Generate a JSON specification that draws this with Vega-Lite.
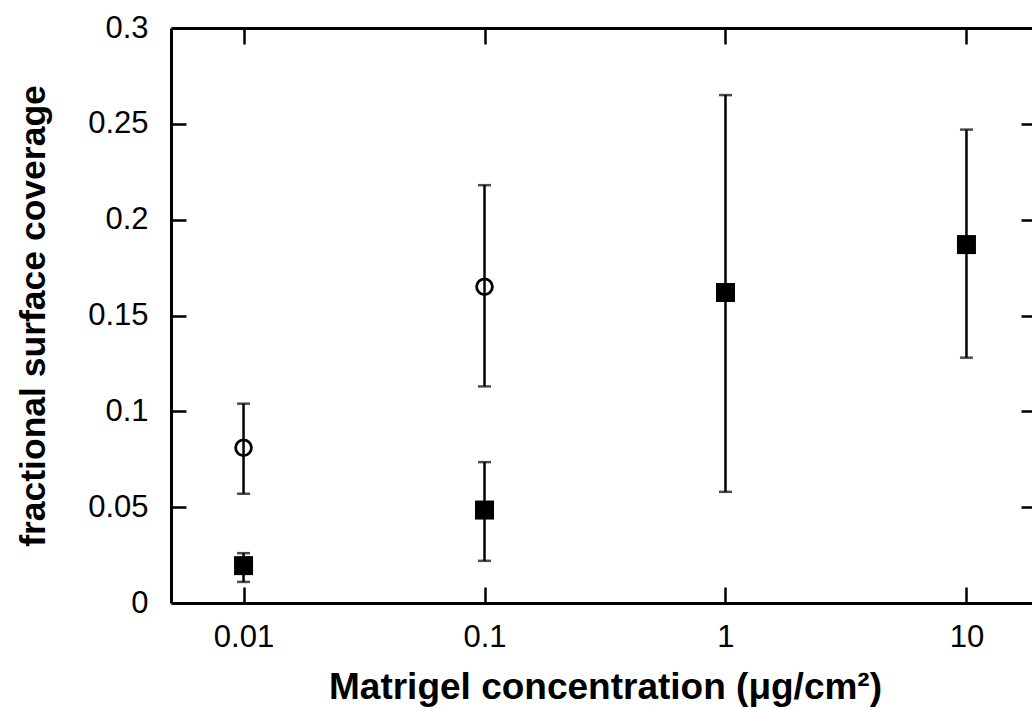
{
  "$schema": "https://vega.github.io/schema/vega-lite/v6.json",
  "autosize": "none",
  "padding": {"left": 171, "top": 28, "right": 0, "bottom": 106},
  "width": 868,
  "height": 575,
  "background": "white",
  "config": {
    "view": {"stroke": null},
    "axis": {
      "grid": false,
      "domainColor": "black",
      "domainWidth": 3,
      "tickColor": "black",
      "tickWidth": 2.5,
      "labelColor": "black",
      "labelFont": "Liberation Sans",
      "labelFontSize": 31,
      "titleColor": "black",
      "titleFont": "Liberation Sans",
      "titleFontWeight": "bold"
    }
  },
  "data": {
    "values": [
      {"set": "A", "conc": 0.01, "value": 0.081, "lo": 0.057, "hi": 0.104},
      {"set": "A", "conc": 0.1, "value": 0.165, "lo": 0.113, "hi": 0.218},
      {"set": "B", "conc": 0.01, "value": 0.0195, "lo": 0.011, "hi": 0.026},
      {"set": "B", "conc": 0.1, "value": 0.0485, "lo": 0.022, "hi": 0.0735},
      {"set": "B", "conc": 1, "value": 0.162, "lo": 0.058, "hi": 0.265},
      {"set": "B", "conc": 10, "value": 0.187, "lo": 0.128, "hi": 0.247}
    ]
  },
  "layer": [
    {
      "layer": [
        {
          "mark": {"type": "errorbar", "ticks": true, "size": 13, "thickness": 2.5, "color": "black"},
          "encoding": {
            "x": {
              "field": "conc", "type": "quantitative",
              "scale": {"type": "log", "domain": [0.005, 20], "nice": false},
              "title": "Matrigel concentration (μg/cm²)",
              "axis": {"orient": "bottom", "values": [0.01, 0.1, 1, 10], "format": "~g", "ticks": false, "labelPadding": 19, "titlePadding": 17, "titleFontSize": 37}
            },
            "y": {
              "field": "lo", "type": "quantitative",
              "scale": {"domain": [0, 0.3], "nice": false},
              "title": "fractional surface coverage",
              "axis": {"orient": "left", "values": [0, 0.05, 0.1, 0.15, 0.2, 0.25, 0.3], "format": "~g", "ticks": false, "labelPadding": 23, "titlePadding": 36, "titleFontSize": 35.5}
            },
            "y2": {"field": "hi"}
          }
        },
        {
          "transform": [{"filter": "datum.set === 'A'"}],
          "mark": {"type": "point", "shape": "circle", "filled": false, "size": 250, "strokeWidth": 2.8, "color": "black", "opacity": 1},
          "encoding": {
            "x": {"field": "conc", "type": "quantitative", "title": "Matrigel concentration (μg/cm²)"},
            "y": {"field": "value", "type": "quantitative", "title": "fractional surface coverage"}
          }
        },
        {
          "transform": [{"filter": "datum.set === 'B'"}],
          "mark": {"type": "square", "size": 361, "filled": true, "color": "black", "opacity": 1},
          "encoding": {
            "x": {"field": "conc", "type": "quantitative", "title": "Matrigel concentration (μg/cm²)"},
            "y": {"field": "value", "type": "quantitative", "title": "fractional surface coverage"}
          }
        }
      ]
    },
    {
      "mark": {"type": "point", "opacity": 0},
      "encoding": {
        "x": {
          "field": "conc", "type": "quantitative",
          "scale": {"type": "log", "domain": [0.005, 20], "nice": false},
          "axis": {"orient": "top", "values": [0.01, 0.1, 1, 10], "labels": false, "title": null, "tickSize": -16}
        },
        "y": {
          "field": "value", "type": "quantitative",
          "scale": {"domain": [0, 0.3], "nice": false},
          "axis": {"orient": "right", "values": [0.05, 0.1, 0.15, 0.2, 0.25], "labels": false, "title": null, "tickSize": -18}
        }
      }
    },
    {
      "mark": {"type": "point", "opacity": 0},
      "encoding": {
        "x": {
          "field": "conc", "type": "quantitative",
          "scale": {"type": "log", "domain": [0.005, 20], "nice": false},
          "axis": {"orient": "bottom", "values": [0.01, 0.1, 1, 10], "labels": false, "domain": false, "title": null, "tickSize": -16}
        },
        "y": {
          "field": "value", "type": "quantitative",
          "scale": {"domain": [0, 0.3], "nice": false},
          "axis": {"orient": "left", "values": [0.05, 0.1, 0.15, 0.2, 0.25], "labels": false, "domain": false, "title": null, "tickSize": -15}
        }
      }
    }
  ],
  "resolve": {"scale": {"x": "independent", "y": "independent"}}
}
